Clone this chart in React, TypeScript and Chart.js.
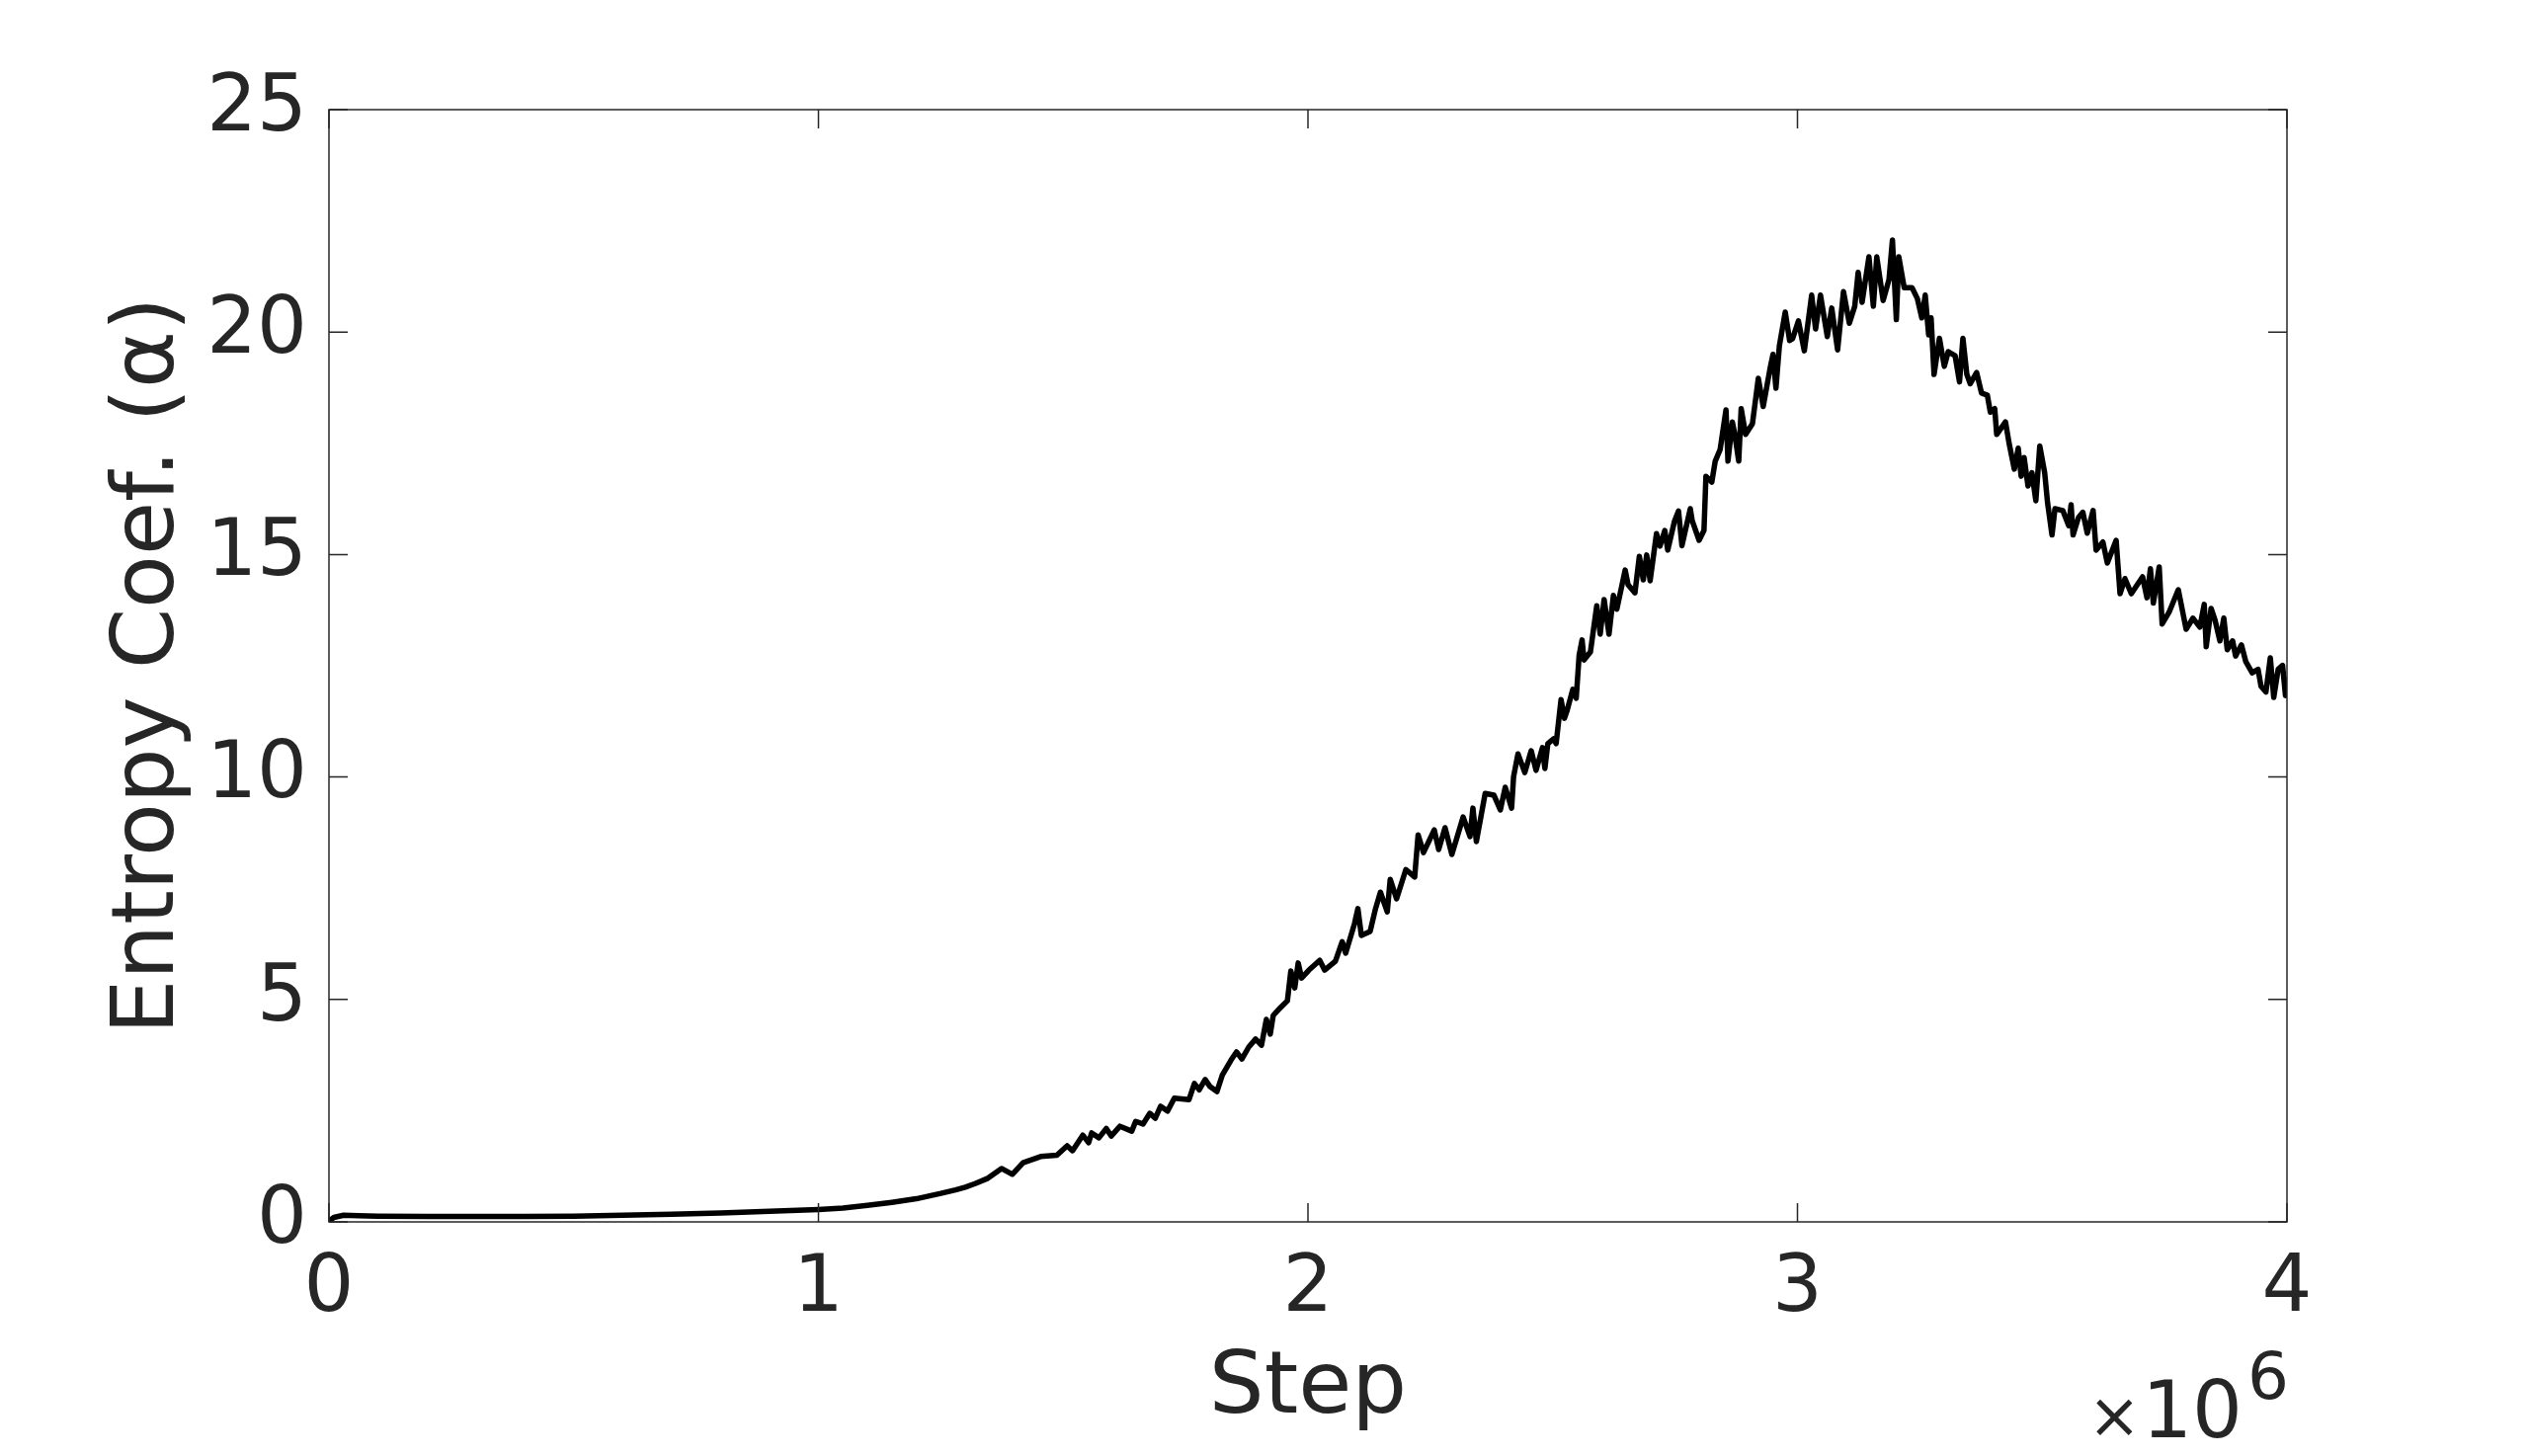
import React, { useEffect, useRef } from "react";
import { Chart, registerables } from "chart.js";

Chart.register(...registerables);

// Training step, in units of 10^6 (the axis carries a ×10^6 multiplier)
const STEP_MILLIONS = [
  0.0, 0.01, 0.03, 0.06, 0.1, 0.2, 0.3, 0.4, 0.5, 0.6, 0.7, 0.8, 0.9, 1.0, 1.05, 1.1, 1.15, 1.2, 1.25, 1.28,
  1.3, 1.32, 1.346, 1.374, 1.396, 1.418, 1.454, 1.487, 1.508, 1.519, 1.54, 1.552, 1.558, 1.573, 1.588, 1.598,
  1.616, 1.64, 1.648, 1.663, 1.677, 1.688, 1.699, 1.713, 1.727, 1.757, 1.768, 1.778, 1.79, 1.8, 1.814, 1.825,
  1.843, 1.854, 1.865, 1.879, 1.893, 1.905, 1.915, 1.923, 1.929, 1.944, 1.958, 1.965, 1.973, 1.98, 1.987,
  2.002, 2.024, 2.034, 2.056, 2.07, 2.077, 2.095, 2.102, 2.109, 2.127, 2.138, 2.148, 2.162, 2.168, 2.181,
  2.2, 2.218, 2.225, 2.236, 2.258, 2.267, 2.28, 2.294, 2.317, 2.331, 2.337, 2.344, 2.362, 2.38, 2.393, 2.403,
  2.416, 2.42, 2.429, 2.443, 2.456, 2.466, 2.479, 2.484, 2.49, 2.502, 2.507, 2.517, 2.524, 2.529, 2.541,
  2.548, 2.554, 2.56, 2.564, 2.577, 2.59, 2.597, 2.605, 2.615, 2.624, 2.631, 2.648, 2.654, 2.668, 2.677,
  2.685, 2.692, 2.699, 2.712, 2.719, 2.729, 2.735, 2.749, 2.757, 2.764, 2.781, 2.785, 2.799, 2.809, 2.813,
  2.825, 2.832, 2.842, 2.854, 2.858, 2.867, 2.872, 2.88, 2.885, 2.894, 2.908, 2.92, 2.93, 2.944, 2.95,
  2.956, 2.963, 2.975, 2.984, 2.99, 3.002, 3.014, 3.029, 3.037, 3.047, 3.061, 3.07, 3.082, 3.094, 3.106,
  3.117, 3.124, 3.132, 3.146, 3.155, 3.162, 3.175, 3.187, 3.194, 3.202, 3.207, 3.218, 3.234, 3.245, 3.254,
  3.261, 3.268, 3.273, 3.279, 3.29, 3.3, 3.308, 3.322, 3.331, 3.338, 3.346, 3.353, 3.366, 3.376, 3.388,
  3.394, 3.403, 3.407, 3.425, 3.432, 3.443, 3.451, 3.457, 3.463, 3.471, 3.479, 3.487, 3.495, 3.505, 3.511,
  3.52, 3.526, 3.542, 3.554, 3.559, 3.563, 3.574, 3.583, 3.592, 3.604, 3.61, 3.624, 3.633, 3.651, 3.659,
  3.669, 3.682, 3.705, 3.714, 3.721, 3.727, 3.739, 3.745, 3.759, 3.778, 3.794, 3.808, 3.822, 3.831, 3.835,
  3.845, 3.853, 3.863, 3.871, 3.878, 3.889, 3.895, 3.907, 3.916, 3.929, 3.941, 3.947, 3.957, 3.966, 3.973,
  3.982, 3.991, 3.997, 4.0,
];

// Entropy coefficient alpha
const ALPHA = [
  0.02, 0.1, 0.15, 0.14, 0.13, 0.12, 0.12, 0.12, 0.13, 0.15, 0.17, 0.2, 0.24, 0.28, 0.31, 0.37, 0.44, 0.52, 0.64, 0.72,
  0.78, 0.86, 0.98, 1.2, 1.07, 1.33, 1.47, 1.5, 1.71, 1.6, 1.95, 1.78, 2.0, 1.89, 2.1, 1.93,
  2.15, 2.04, 2.26, 2.2, 2.44, 2.33, 2.6, 2.49, 2.78, 2.75, 3.11, 2.97, 3.2, 3.04, 2.93, 3.3,
  3.64, 3.82, 3.66, 3.93, 4.11, 3.97, 4.55, 4.22, 4.64, 4.82, 4.97, 5.64, 5.26, 5.82, 5.48,
  5.66, 5.88, 5.66, 5.86, 6.3, 6.04, 6.7, 7.04, 6.44, 6.53, 7.04, 7.41, 6.97, 7.7, 7.26,
  7.92, 7.75, 8.7, 8.3, 8.81, 8.37, 8.86, 8.26, 9.1, 8.66, 9.3, 8.55, 9.63, 9.59, 9.26, 9.77,
  9.3, 10.0, 10.52, 10.1, 10.59, 10.15, 10.66, 10.19, 10.75, 10.86, 10.75, 11.74, 11.32, 11.48, 11.97,
  11.77, 12.74, 13.08, 12.63, 12.81, 13.85, 13.21, 13.99, 13.21, 14.08, 13.77, 14.65, 14.32, 14.14, 14.96,
  14.43, 14.99, 14.41, 15.47, 15.19, 15.54, 15.1, 15.76, 15.98, 15.2, 16.03, 15.76, 15.32, 15.54, 16.76,
  16.63, 17.1, 17.36, 18.25, 17.1, 17.98, 17.7, 17.1, 18.28, 17.7, 17.94, 18.96, 18.33, 19.18, 19.5,
  18.74, 19.69, 20.45, 19.81, 19.85, 20.25, 19.58, 20.83, 20.07, 20.83, 19.9, 20.54, 19.6, 20.91, 20.2,
  20.58, 21.34, 20.67, 21.69, 20.58, 21.69, 20.71, 21.18, 22.07, 20.28, 21.69, 21.0, 21.0, 20.75, 20.32,
  20.83, 19.94, 20.32, 19.05, 19.86, 19.23, 19.56, 19.47, 18.88, 19.86, 19.05, 18.84, 19.09, 18.63, 18.58,
  18.2, 18.28, 17.7, 17.98, 17.52, 16.92, 17.39, 16.76, 17.18, 16.54, 16.84, 16.21, 17.44, 16.84, 16.16,
  15.44, 16.03, 15.99, 15.65, 16.12, 15.44, 15.83, 15.95, 15.48, 15.99, 15.1, 15.28, 14.81, 15.32, 14.12,
  14.46, 14.12, 14.5, 14.03, 14.68, 13.91, 14.72, 13.44, 13.7, 14.21, 13.32, 13.57, 13.37, 13.88, 12.93,
  13.79, 13.53, 13.06, 13.57, 12.86, 13.06, 12.72, 12.97, 12.59, 12.34, 12.42, 12.04, 11.91, 12.68, 11.79,
  12.42, 12.51, 11.83, 12.25,
];

const X_TICKS = [0, 1, 2, 3, 4];
const Y_TICKS = [0, 5, 10, 15, 20, 25];
const X_LABEL = "Step";
const Y_LABEL = "Entropy Coef. (α)";
const X_MULTIPLIER_SIGN = "×";
const X_MULTIPLIER_BASE = "10";
const X_MULTIPLIER_EXP = "6";

const FONT = '"DejaVu Sans", sans-serif';
const INK = "#262626";

export default function App() {
  const canvasRef = useRef<HTMLCanvasElement | null>(null);

  useEffect(() => {
    const canvas = canvasRef.current;
    if (!canvas) return;

    const framePlugin = {
      id: "matlabFrame",
      afterDatasetsDraw(chart: any) {
        const { ctx, chartArea } = chart;
        const { left, right, top, bottom } = chartArea;
        const xs = chart.scales.x;
        const ys = chart.scales.y;
        const tl = 19;
        ctx.save();
        ctx.strokeStyle = INK;
        ctx.lineWidth = 1.5;
        ctx.strokeRect(left, top, right - left, bottom - top);
        ctx.beginPath();
        X_TICKS.forEach((v) => {
          const px = xs.getPixelForValue(v);
          ctx.moveTo(px, bottom);
          ctx.lineTo(px, bottom - tl);
          ctx.moveTo(px, top);
          ctx.lineTo(px, top + tl);
        });
        Y_TICKS.forEach((v) => {
          const py = ys.getPixelForValue(v);
          ctx.moveTo(left, py);
          ctx.lineTo(left + tl, py);
          ctx.moveTo(right, py);
          ctx.lineTo(right - tl, py);
        });
        ctx.stroke();

        // ×10^6 multiplier under the right end of the x axis
        ctx.fillStyle = INK;
        ctx.textBaseline = "alphabetic";
        ctx.textAlign = "right";
        ctx.font = `66px ${FONT}`;
        const expRight = right + 2;
        ctx.fillText(X_MULTIPLIER_EXP, expRight, bottom + 179);
        const wExp = ctx.measureText(X_MULTIPLIER_EXP).width;
        ctx.font = `80px ${FONT}`;
        const baseRight = expRight - wExp - 5;
        ctx.fillText(X_MULTIPLIER_BASE, baseRight, bottom + 218);
        const wBase = ctx.measureText(X_MULTIPLIER_BASE).width;
        ctx.font = `64px ${FONT}`;
        ctx.textAlign = "center";
        ctx.fillText(X_MULTIPLIER_SIGN, baseRight - wBase - 28, bottom + 218);
        ctx.restore();
      },
    };

    const chart = new Chart(canvas, {
      type: "line",
      data: {
        datasets: [
          {
            data: STEP_MILLIONS.map((s, i) => ({ x: s, y: ALPHA[i] })),
            borderColor: "#000000",
            borderWidth: 5.5,
            pointRadius: 0,
            tension: 0,
            fill: false,
            borderJoinStyle: "round",
          },
        ],
      },
      options: {
        animation: false,
        responsive: false,
        maintainAspectRatio: false,
        devicePixelRatio: 1,
        layout: { padding: { left: 0, top: 111, right: 245, bottom: 0 } },
        plugins: {
          legend: { display: false },
          tooltip: { enabled: false },
        },
        scales: {
          x: {
            type: "linear",
            min: 0,
            max: 4,
            grid: { display: false, drawTicks: false },
            border: { display: false },
            ticks: {
              stepSize: 1,
              maxRotation: 0,
              padding: 21,
              color: INK,
              font: { family: FONT, size: 80 },
              callback: (v: any) => String(v),
            },
            title: {
              display: true,
              text: X_LABEL,
              color: INK,
              font: { family: FONT, size: 88 },
              padding: { top: 0, bottom: 14 },
            },
            afterFit: (scale: any) => {
              scale.height = 237;
            },
          },
          y: {
            type: "linear",
            min: 0,
            max: 25,
            grid: { display: false, drawTicks: false },
            border: { display: false },
            ticks: {
              stepSize: 5,
              padding: 22,
              color: INK,
              font: { family: FONT, size: 80 },
            },
            title: {
              display: true,
              text: Y_LABEL,
              color: INK,
              font: { family: FONT, size: 88 },
              padding: { top: 99, bottom: 0 },
            },
            afterFit: (scale: any) => {
              scale.width = 333;
            },
          },
        },
      },
      plugins: [framePlugin],
    } as any);

    return () => {
      chart.destroy();
    };
  }, []);

  return (
    <div style={{ position: "absolute", left: 0, top: 0, width: 2560, height: 1474, background: "#ffffff" }}>
      <canvas ref={canvasRef} width={2560} height={1474} style={{ display: "block" }} />
    </div>
  );
}
